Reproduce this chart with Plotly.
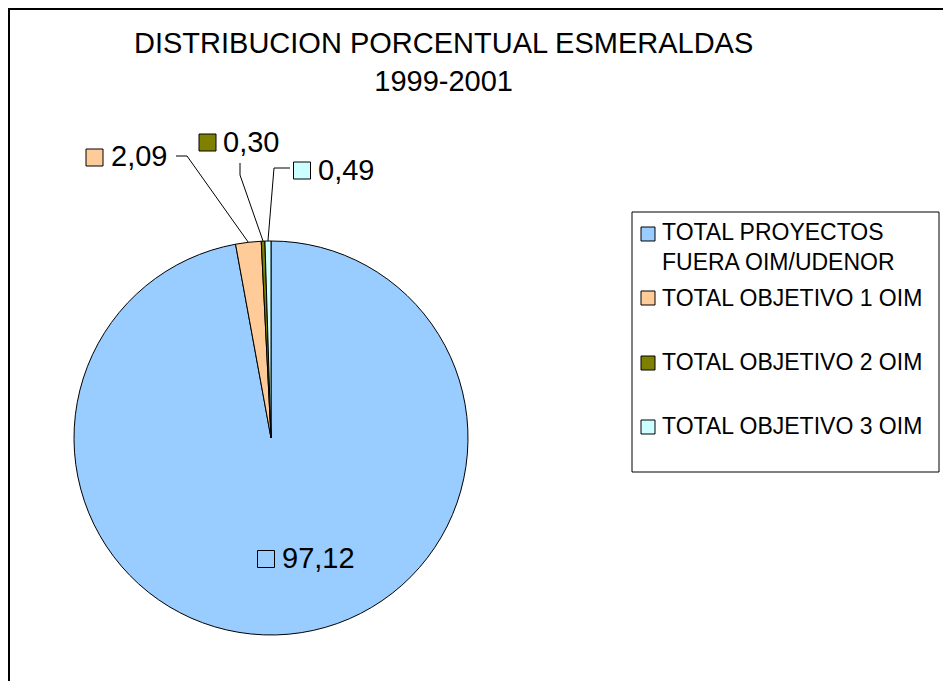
import math
import plotly.graph_objects as go

# ---------------- data ----------------
categories = [
    "TOTAL PROYECTOS FUERA OIM/UDENOR",
    "TOTAL OBJETIVO 1 OIM",
    "TOTAL OBJETIVO 2 OIM",
    "TOTAL OBJETIVO 3 OIM",
]
legend_labels = [
    "TOTAL PROYECTOS<br>FUERA OIM/UDENOR",
    "TOTAL OBJETIVO 1 OIM",
    "TOTAL OBJETIVO 2 OIM",
    "TOTAL OBJETIVO 3 OIM",
]
values = [97.12, 2.09, 0.30, 0.49]
value_labels = ["97,12", "2,09", "0,30", "0,49"]
title_text = "DISTRIBUCION PORCENTUAL ESMERALDAS<br>1999-2001"

# ---------------- styles / layout ----------------
colors = ["#99CCFF", "#FFCC99", "#808000", "#CCFFFF"]
FONT = "Arial, Liberation Sans, sans-serif"
OFF = 8  # page body margin
W, H = 951 - OFF, 681 - OFF
CX, CY, R = 271, 438, 197


def px(x):
    return (x - OFF) / W


def py(y):
    return 1 - (y - OFF) / H


fig = go.Figure(
    go.Pie(
        labels=categories,
        values=values,
        sort=False,
        direction="clockwise",
        rotation=0,
        marker=dict(colors=colors, line=dict(color="black", width=1)),
        textinfo="none",
        hoverinfo="label+value",
        domain=dict(x=[px(CX - R), px(CX + R)], y=[py(CY + R), py(CY - R)]),
        showlegend=False,
    )
)

shapes = []
annotations = []

# outer chart border (extends beyond right/bottom edge)
shapes.append(dict(type="rect", xref="paper", yref="paper",
                   x0=px(9), x1=1.05, y0=-0.05, y1=py(9),
                   line=dict(color="black", width=2), fillcolor="rgba(0,0,0,0)"))

# title
annotations.append(dict(text=title_text, xref="paper", yref="paper",
                        x=px(443), y=py(62), xanchor="center", yanchor="middle",
                        showarrow=False, font=dict(family=FONT, size=29, color="black")))

# data labels (layout positions of label groups; leader end on slice computed from data)
label_layout = [
    dict(sw=(266, 559), tx=280, ty=558, leader=None, fill=False),
    dict(sw=(94.5, 157.5), tx=109, ty=156, leader=[(176, 156), (187, 156)], fill=True),
    dict(sw=(207.5, 142.5), tx=221, ty=142, leader=[(240, 163), (240, 175)], fill=True),
    dict(sw=(302, 170.5), tx=316, ty=170, leader=[(290, 168), (274, 168)], fill=True),
]

total = sum(values)
cum = 0.0
for i, v in enumerate(values):
    mid = (cum + v / 2) / total
    cum += v
    a = 2 * math.pi * mid
    ex = CX + R * math.sin(a)
    ey = CY - R * math.cos(a)
    L = label_layout[i]
    sx, sy = L["sw"]
    s = 8.5
    shapes.append(dict(type="rect", xref="paper", yref="paper",
                       x0=px(sx - s), x1=px(sx + s), y0=py(sy + s), y1=py(sy - s),
                       line=dict(color="black", width=1),
                       fillcolor=colors[i] if L["fill"] else "rgba(0,0,0,0)"))
    annotations.append(dict(text=value_labels[i], xref="paper", yref="paper",
                            x=px(L["tx"]), y=py(L["ty"]), xanchor="left", yanchor="middle",
                            showarrow=False, font=dict(family=FONT, size=29, color="black")))
    if L["leader"]:
        pts = L["leader"] + [(ex, ey)]
        path = "M " + " L ".join(f"{px(x)} {py(y)}" for x, y in pts)
        shapes.append(dict(type="path", xref="paper", yref="paper", path=path,
                           line=dict(color="black", width=1)))

# legend (manual)
shapes.append(dict(type="rect", xref="paper", yref="paper",
                   x0=px(632), x1=px(939), y0=py(472), y1=py(212),
                   line=dict(color="black", width=1), fillcolor="white"))
legend_rows = [(234, 247), (298, 298), (363, 362), (427, 426)]
for i, (sy, ty) in enumerate(legend_rows):
    shapes.append(dict(type="rect", xref="paper", yref="paper",
                       x0=px(641), x1=px(655), y0=py(sy + 7), y1=py(sy - 7),
                       line=dict(color="black", width=1), fillcolor=colors[i]))
    annotations.append(dict(text=legend_labels[i], xref="paper", yref="paper",
                            x=px(660), y=py(ty), xanchor="left", yanchor="middle", align="left",
                            showarrow=False, font=dict(family=FONT, size=23, color="black")))

fig.update_layout(
    width=W, height=H,
    margin=dict(l=0, r=0, t=0, b=0),
    paper_bgcolor="white", plot_bgcolor="white",
    shapes=shapes, annotations=annotations,
    showlegend=False,
    font=dict(family=FONT, color="black"),
)

fig.write_html("out.html")
